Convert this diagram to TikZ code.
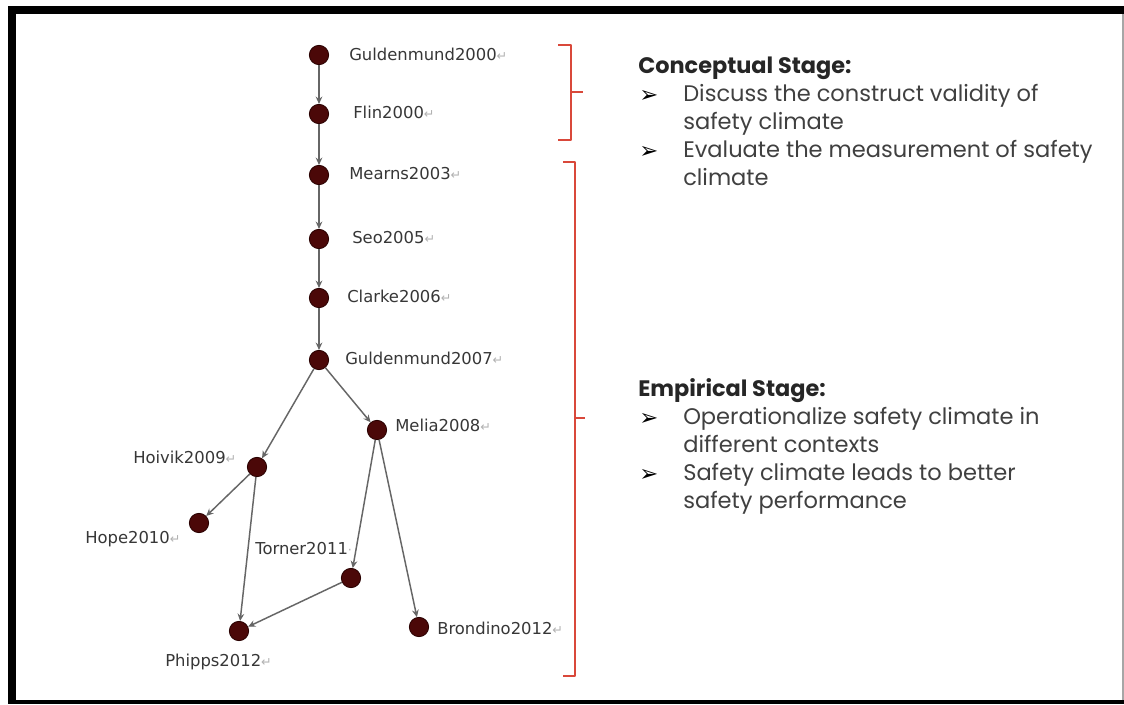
\documentclass[tikz,border=0pt]{standalone}
\usepackage{fontspec}
\usetikzlibrary{arrows.meta}
\setmainfont{DejaVu Sans}
\newfontfamily\gothic{Poppins}
\newfontfamily\dv{DejaVu Sans}
\definecolor{nodefill}{RGB}{75,8,8}
\definecolor{nodeline}{RGB}{40,0,0}
\definecolor{brk}{RGB}{217,72,58}
\definecolor{labtxt}{RGB}{55,55,55}
\newcommand\retmark{{\color{gray!60}\fontsize{9.5}{9.5}\selectfont ↵}}
\newcommand\dotmark{{\color{gray!60}\fontsize{9.5}{9.5}\selectfont ·}}
\tikzset{
  paper/.style={x=0.75pt,y=-0.75pt},
  pub/.style={circle,fill=nodefill,draw=nodeline,line width=0.6pt,minimum size=14.5pt,inner sep=0pt},
  lab/.style={anchor=base west,inner sep=0pt,text=labtxt,font=\dv\fontsize{12.3}{14}\selectfont},
  cite/.style={draw=gray!80!black,line width=1.1pt,-{Stealth[length=5.5pt,width=5pt,fill=black]}},
  bracket/.style={draw=brk,line width=1.3pt,line join=round},
  head/.style={anchor=base west,inner sep=0pt,font=\gothic\bfseries\fontsize{16.8}{18}\selectfont,text=black!85},
  item/.style={anchor=base west,inner sep=0pt,font=\gothic\fontsize{16.9}{18}\selectfont,text=black!75},
  bul/.style={anchor=base west,inner sep=0pt,font=\dv\fontsize{17}{18}\selectfont,text=black}
}
\begin{document}
\begin{tikzpicture}[paper]
\useasboundingbox (0,0) rectangle (1124,704);
\clip (0,0) rectangle (1124,704);
\fill[white] (0,0) rectangle (1124,704);
% frame
\fill[black] (8,6) rectangle (1124,14);
\fill[black] (8,6) rectangle (16,704);
\fill[black] (8,700) rectangle (1124,704);
\draw[gray!70,line width=0.8pt] (1123,14) -- (1123,700);

% publication nodes
\node[pub] (g2000) at (319,55) {};
\node[pub] (f2000) at (319,114) {};
\node[pub] (m2003) at (319,175) {};
\node[pub] (s2005) at (319,239) {};
\node[pub] (c2006) at (319,298) {};
\node[pub] (g2007) at (319,360) {};
\node[pub] (me2008) at (377,430) {};
\node[pub] (h2009) at (257,467) {};
\node[pub] (ho2010) at (199,523) {};
\node[pub] (t2011) at (351,578) {};
\node[pub] (p2012) at (239,631) {};
\node[pub] (b2012) at (419,627) {};

% labels
\node[lab] (lg2000) at (349,60) {Guldenmund2000\retmark};
\node[lab] (lf2000) at (353,118) {Flin2000\retmark};
\node[lab] (lm2003) at (349,179) {Mearns2003\retmark};
\node[lab] (ls2005) at (352,243) {Seo2005\retmark};
\node[lab] (lc2006) at (347,302) {Clarke2006\retmark};
\node[lab] (lg2007) at (345,364) {Guldenmund2007\retmark};
\node[lab] (lme2008) at (395,431) {Melia2008\retmark};
\node[lab] (lh2009) at (133,463) {Hoivik2009\retmark};
\node[lab] (lho2010) at (85,543) {Hope2010\retmark};
\node[lab] (lt2011) at (255,554) {Torner2011\dotmark};
\node[lab] (lp2012) at (165,666) {Phipps2012\retmark};
\node[lab] (lb2012) at (437,634) {Brondino2012\retmark};

% citations
\draw[cite] (g2000) -- (f2000);
\draw[cite] (f2000) -- (m2003);
\draw[cite] (m2003) -- (s2005);
\draw[cite] (s2005) -- (c2006);
\draw[cite] (c2006) -- (g2007);
\draw[cite] (g2007) -- (me2008);
\draw[cite] (g2007) -- (h2009);
\draw[cite] (h2009) -- (ho2010);
\draw[cite] (h2009) -- (p2012);
\draw[cite] (me2008) -- (t2011);
\draw[cite] (me2008) -- (b2012);
\draw[cite] (t2011) -- (p2012);

% brackets
\draw[bracket] (558,45) -- (571,45) -- (571,140) -- (558,140);
\draw[bracket] (571,92) -- (583,92);
\draw[bracket] (563,162) -- (575,162) -- (575,676) -- (563,676);
\draw[bracket] (575,418) -- (585,418);

% conceptual text
\node[head] (chead) at (638,73) {Conceptual Stage:};
\node[bul] (cb1) at (639,102) {➢};
\node[item] (ci1a) at (683,101) {Discuss the construct validity of};
\node[item] (ci1b) at (683,129) {safety climate};
\node[bul] (cb2) at (639,158) {➢};
\node[item] (ci2a) at (683,157) {Evaluate the measurement of safety};
\node[item] (ci2b) at (683,185) {climate};

% empirical text
\node[head] (ehead) at (638,396) {Empirical Stage:};
\node[bul] (eb1) at (639,425) {➢};
\node[item] (ei1a) at (683,424) {Operationalize safety climate in};
\node[item] (ei1b) at (683,452) {different contexts};
\node[bul] (eb2) at (639,481) {➢};
\node[item] (ei2a) at (683,480) {Safety climate leads to better};
\node[item] (ei2b) at (683,508) {safety performance};
\end{tikzpicture}
\end{document}
